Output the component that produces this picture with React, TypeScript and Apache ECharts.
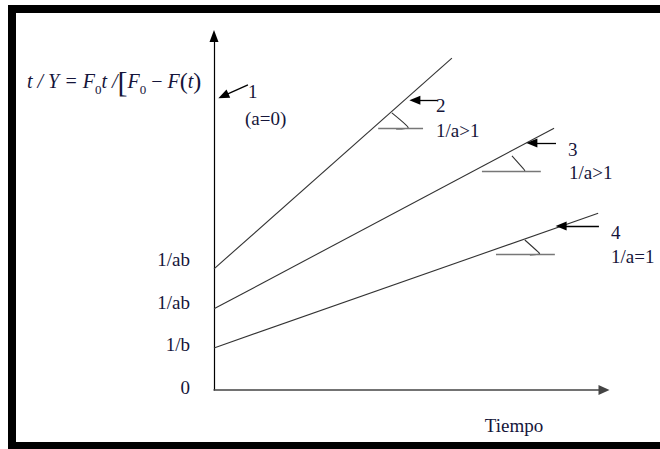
import React, { useEffect, useRef } from "react";
import * as echarts from "echarts";

// Axis tick labels (y values 0..3)
const yTickLabels = ["0", "1/b", "1/ab", "1/ab"];

// Straight lines (time, t/Y)
const line2 = [[0, 2.85], [6.1, 7.81]];
const line3 = [[0, 1.91], [8.72, 6.16]];
const line4 = [[0, 0.99], [9.85, 4.16]];

// Pointer arrows: [tail, tip]
const arrow1 = [[0.87, 7.18], [0.24, 6.92]];
const arrow2 = [[5.74, 6.82], [5.15, 6.82]];
const arrow3 = [[8.77, 5.81], [8.15, 5.81]];
const arrow4 = [[9.87, 3.86], [8.9, 3.86]];

// Slope markers: horizontal reference segments
const hor2 = [[4.21, 6.16], [5.36, 6.16]];
const hor3 = [[6.87, 5.15], [8.38, 5.15]];
const hor4 = [[7.23, 3.2], [8.74, 3.2]];

// Slope markers: angle hooks
const hook2 = [[4.56, 6.52], [4.92, 6.24], [4.98, 6.17], [4.67, 6.14]];
const hook3 = [[7.64, 5.51], [7.92, 5.22], [7.97, 5.16], [7.72, 5.14]];
const hook4 = [[7.97, 3.53], [8.31, 3.25], [8.35, 3.21], [8.1, 3.18]];

const lineLabels = [
  { text: "1", x: 248, y: 91 },
  { text: "(a=0)", x: 245, y: 118 },
  { text: "2", x: 436, y: 105 },
  { text: "1/a>1", x: 436, y: 130 },
  { text: "3", x: 568, y: 149 },
  { text: "1/a>1", x: 569, y: 172 },
  { text: "4", x: 611, y: 232 },
  { text: "1/a=1", x: 611, y: 256 },
];

const SERIF = "Liberation Serif";
const TXT = "#15153a";

export default function App() {
  const ref = useRef<HTMLDivElement>(null);
  useEffect(() => {
    const chart = echarts.init(ref.current!, null, { renderer: "svg" });
    const arrowItem = (a: number[][]) => [
      { coord: a[0], symbol: "none" },
      { coord: a[1], symbol: "triangle", symbolSize: [9, 11] },
    ];
    const horItem = (h: number[][]) => [
      { coord: h[0], symbol: "none" },
      { coord: h[1], symbol: "none" },
    ];
    const straight = (data: number[][]) => ({
      type: "line",
      data,
      symbol: "none",
      lineStyle: { color: "#333", width: 1.1 },
      silent: true,
    });
    const hook = (data: number[][]) => ({
      type: "line",
      data,
      symbol: "none",
      smooth: 0.4,
      lineStyle: { color: "#333", width: 1.1 },
      silent: true,
    });
    const tok = (size: number, italic: boolean, extra: any = {}) => ({
      fontFamily: SERIF,
      fontSize: size,
      fontStyle: italic ? "italic" : "normal",
      color: TXT,
      lineHeight: 30,
      ...extra,
    });
    chart.setOption({
      animation: false,
      title: [
        {
          text: "{i|t / Y = F}{s|0}{i|t /}{b|[}{i|F}{s|0}{n| − }{i|F}{p|(}{i|t}{p|)}",
          left: 27,
          top: 66,
          padding: 0,
          textStyle: {
            fontFamily: SERIF,
            fontSize: 20,
            fontWeight: "normal",
            color: TXT,
            lineHeight: 30,
            rich: {
              i: tok(20, true),
              n: tok(20, false),
              s: tok(13, false, { verticalAlign: "bottom", lineHeight: 26 }),
              b: tok(30, false),
              p: tok(24, false),
            },
          },
        },
        ...lineLabels.map((l) => ({
          text: l.text,
          left: l.x,
          top: l.y - 11,
          padding: 0,
          textStyle: {
            fontFamily: SERIF,
            fontSize: 19,
            fontWeight: "normal",
            color: TXT,
            lineHeight: 22,
          },
        })),
      ],
      grid: { left: 214, right: 56, top: 36, bottom: 59 },
      xAxis: {
        type: "value",
        min: 0,
        max: 10,
        name: "Tiempo",
        nameLocation: "middle",
        nameGap: 26,
        nameTextStyle: { fontFamily: SERIF, fontSize: 19, color: TXT, padding: [0, 0, 0, 210] },
        axisLine: {
          show: true,
          onZero: false,
          symbol: ["none", "triangle"],
          symbolSize: [10, 11],
          lineStyle: { color: "#444", width: 1.5 },
        },
        axisTick: { show: false },
        axisLabel: { show: false },
        splitLine: { show: false },
      },
      yAxis: {
        type: "value",
        min: 0,
        max: 8.33,
        interval: 1,
        axisLine: {
          show: true,
          onZero: false,
          symbol: ["none", "triangle"],
          symbolSize: [9, 12],
          lineStyle: { color: "#000", width: 1.2 },
        },
        axisTick: { show: false },
        splitLine: { show: false },
        axisLabel: {
          margin: 24,
          fontFamily: SERIF,
          fontSize: 19,
          color: TXT,
          verticalAlign: "bottom",
          lineHeight: 6,
          formatter: (v: number) => {
            const i = Math.round(v);
            return Math.abs(v - i) < 1e-6 && i < yTickLabels.length ? yTickLabels[i] : "";
          },
        },
      },
      series: [
        straight(line2),
        straight(line3),
        straight(line4),
        hook(hook2),
        hook(hook3),
        hook(hook4),
        {
          type: "line",
          data: [],
          silent: true,
          markLine: {
            silent: true,
            label: { show: false },
            lineStyle: { color: "#000", width: 1.3, type: "solid" },
            data: [arrowItem(arrow1), arrowItem(arrow2), arrowItem(arrow3), arrowItem(arrow4)],
          },
        },
        {
          type: "line",
          data: [],
          silent: true,
          markLine: {
            silent: true,
            symbol: "none",
            label: { show: false },
            lineStyle: { color: "#777", width: 1.4, type: "solid" },
            data: [horItem(hor2), horItem(hor3), horItem(hor4)],
          },
        },
      ],
      graphic: [
        { type: "rect", shape: { x: 8, y: 5, width: 8, height: 444 }, style: { fill: "#000" } },
        { type: "rect", shape: { x: 8, y: 5, width: 652, height: 8 }, style: { fill: "#000" } },
        { type: "rect", shape: { x: 8, y: 442, width: 652, height: 7 }, style: { fill: "#000" } },
      ],
    });
    return () => chart.dispose();
  }, []);
  return (
    <div
      ref={ref}
      style={{ position: "fixed", left: 0, top: 0, width: 660, height: 449, background: "#fff" }}
    />
  );
}
